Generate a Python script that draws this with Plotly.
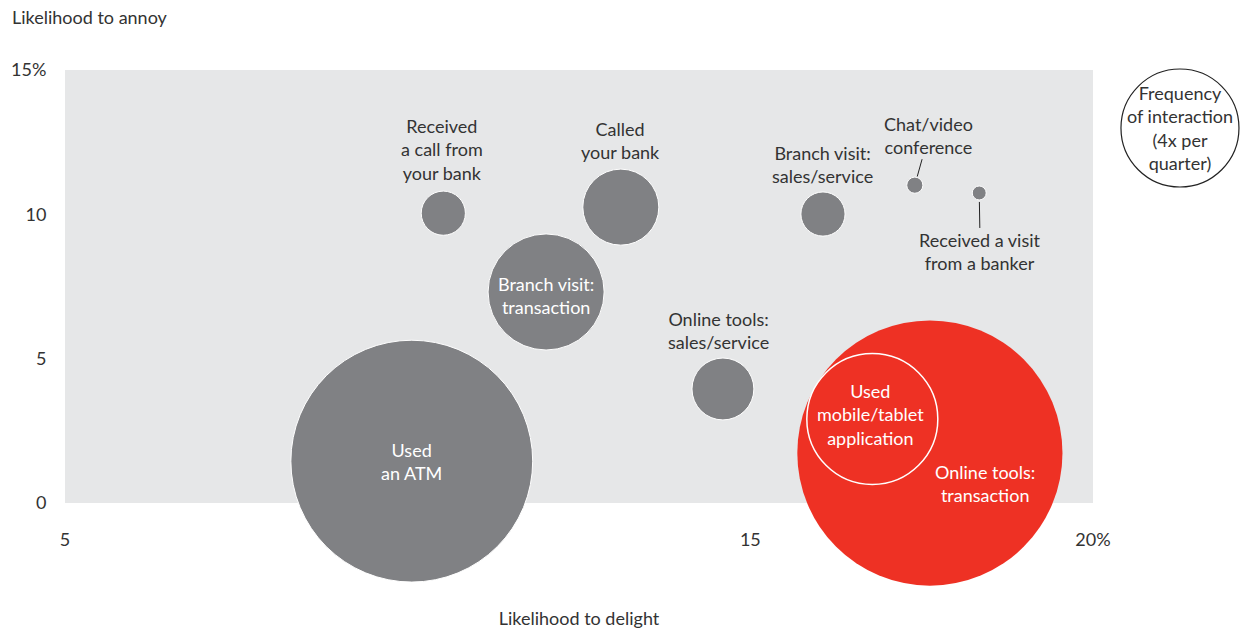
import numpy as np
import plotly.graph_objects as go

# --- data ---
names = ["Used an ATM", "Branch visit: transaction", "Received a call from your bank",
         "Called your bank", "Branch visit: sales/service", "Chat/video conference",
         "Received a visit from a banker", "Online tools: sales/service",
         "Online tools: transaction", "Used mobile/tablet application"]
delight = [10.06, 12.02, 10.52, 13.11, 16.06, 17.40, 18.34, 14.60, 17.62, 16.78]
annoy = [1.45, 7.31, 10.04, 10.25, 10.01, 11.01, 10.74, 3.95, 1.73, 2.91]
frequency = [16.8, 3.87, 0.56, 1.66, 0.56, 0.075, 0.056, 1.10, 20.2, 4.93]
digital = [False, False, False, False, False, False, False, False, True, True]

legend_freq = 4  # reference bubble: 4x per quarter
x_ticks = [5, 15, 20]
x_ticktext = ["5", "15", "20%"]
y_ticks = [0, 5, 10, 15]
y_ticktext = ["0", "5", "10", "15%"]

GRAY = "#808184"
RED = "#ee3124"
TXT = "#333333"
FONT = "Lato"
FS = 18

legend_diam = 118
sizeref = 2 * legend_freq / legend_diam ** 2

fig = go.Figure()

# gray (non-digital) bubbles
idx = [i for i in range(len(names)) if not digital[i]]
fig.add_trace(go.Scatter(
    x=[delight[i] for i in idx], y=[annoy[i] for i in idx],
    mode="markers", cliponaxis=False, hoverinfo="text",
    text=[names[i] for i in idx],
    marker=dict(size=[frequency[i] for i in idx], sizemode="area", sizeref=sizeref,
                color=GRAY, opacity=1, line=dict(color="white", width=1)),
))
# red digital bubbles (transaction behind, mobile on top with white outline)
fig.add_trace(go.Scatter(
    x=[delight[8]], y=[annoy[8]], mode="markers", cliponaxis=False,
    text=[names[8]], hoverinfo="text",
    marker=dict(size=[frequency[8]], sizemode="area", sizeref=sizeref,
                color=RED, opacity=1, line=dict(width=0)),
))
fig.add_trace(go.Scatter(
    x=[delight[9]], y=[annoy[9]], mode="markers", cliponaxis=False,
    text=[names[9]], hoverinfo="text",
    marker=dict(size=[frequency[9]], sizemode="area", sizeref=sizeref,
                color=RED, opacity=1, line=dict(color="white", width=1.5)),
))

# size key circle to the right of the plot
r_key = legend_diam / 2
key_x, key_y = 1.0846, 0.866
fig.add_shape(type="circle", xref="paper", yref="paper",
              xsizemode="pixel", ysizemode="pixel",
              xanchor=key_x, yanchor=key_y,
              x0=-r_key, x1=r_key, y0=-r_key, y1=r_key,
              line=dict(color="#222222", width=1.2), fillcolor="white")

def label(x, y, text, color=TXT, **kw):
    fig.add_annotation(x=x, y=y, text=text, showarrow=False,
                       xanchor="center", yanchor="middle",
                       font=dict(family=FONT, size=FS, color=color), **kw)

label(10.50, 12.23, "Received<br>a call from<br>your bank")
label(13.10, 12.57, "Called<br>your bank")
label(16.06, 11.74, "Branch visit:<br>sales/service")
label(14.53, 5.99, "Online tools:<br>sales/service")
label(12.02, 7.20, "Branch visit:<br>transaction", color="white")
label(10.06, 1.45, "Used<br>an ATM", color="white")
label(16.75, 3.05, "Used<br>mobile/tablet<br>application", color="white")
label(18.42, 0.69, "Online tools:<br>transaction", color="white")
fig.add_annotation(xref="paper", yref="paper", x=key_x, y=key_y,
                   xanchor="center", yanchor="middle",
                   text="Frequency<br>of interaction<br>(4x per<br>quarter)", showarrow=False,
                   font=dict(family=FONT, size=FS, color=TXT))

# leader-line labels
fig.add_annotation(x=delight[5], y=annoy[5], text="Chat/video<br>conference",
                   showarrow=True, arrowhead=0, arrowwidth=1, arrowcolor="#222222",
                   ax=14, ay=-50, standoff=9,
                   font=dict(family=FONT, size=FS, color=TXT))
fig.add_annotation(x=delight[6], y=annoy[6], text="Received a visit<br>from a banker",
                   showarrow=True, arrowhead=0, arrowwidth=1, arrowcolor="#222222",
                   ax=1, ay=59, standoff=9,
                   font=dict(family=FONT, size=FS, color=TXT))

fig.add_annotation(xref="paper", yref="paper", x=-0.0535, y=1.1224, xanchor="left",
                   yanchor="middle", text="Likelihood to annoy", showarrow=False,
                   font=dict(family=FONT, size=FS, color=TXT))

fig.update_layout(
    width=1248, height=621,
    margin=dict(l=57, r=163, t=62, b=126, autoexpand=False),
    paper_bgcolor="white", plot_bgcolor="#e6e7e8",
    showlegend=False,
    font=dict(family=FONT, size=FS, color=TXT),
    xaxis=dict(range=[5, 20], tickvals=x_ticks, ticktext=x_ticktext, showgrid=False,
               zeroline=False, showline=False, ticks="outside", ticklen=20,
               tickcolor="rgba(0,0,0,0)", automargin=False,
               title=dict(text="Likelihood to delight", standoff=65,
                          font=dict(family=FONT, size=FS, color=TXT))),
    yaxis=dict(range=[0, 15], tickvals=y_ticks, ticktext=y_ticktext, showgrid=False,
               zeroline=False, showline=False, ticks="outside", ticklen=14,
               tickcolor="rgba(0,0,0,0)", automargin=False),
)

fig.write_html("out.html")
